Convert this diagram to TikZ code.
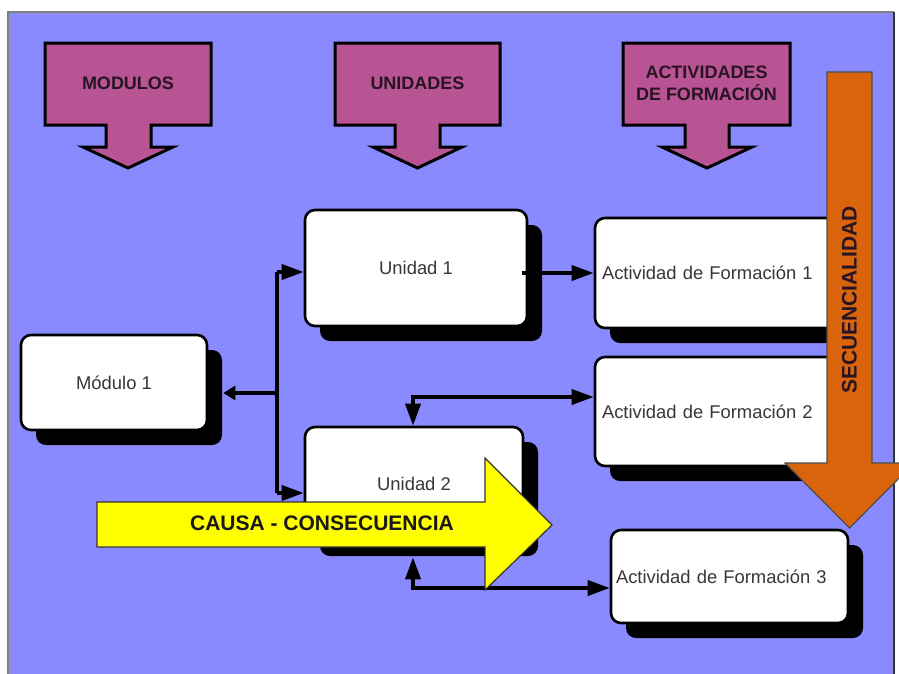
\documentclass[tikz,border=0pt]{standalone}
\usepackage{fontspec}
\setmainfont{Liberation Sans}
\usetikzlibrary{arrows.meta,shadows}
\definecolor{bgblue}{RGB}{138,138,255}
\definecolor{purp}{RGB}{184,83,148}
\definecolor{orng}{RGB}{217,100,12}
\definecolor{yell}{RGB}{255,255,0}
\definecolor{headtxt}{RGB}{40,20,35}
\definecolor{boxtxt}{RGB}{55,55,55}
\begin{document}
\begin{tikzpicture}[x=1pt,y=-1pt,
  wbox/.style={draw=black, line width=2.6pt, fill=white, rounded corners=10pt,
    drop shadow={shadow xshift=15pt, shadow yshift=-15pt, opacity=1, fill=black},
    text=boxtxt, font=\fontsize{18.4}{21}\selectfont, inner sep=0pt},
  callout/.style={draw=black, line width=3pt, fill=purp, line join=miter},
  headlbl/.style={text=headtxt, font=\bfseries\fontsize{18}{22}\selectfont, align=center},
  conn/.style={line width=3.8pt, draw=black},
  arr/.style={conn, -{Triangle[length=22pt,width=15pt]}},
  arrboth/.style={conn, {Triangle[length=22pt,width=15pt]}-{Triangle[length=22pt,width=15pt]}},
  arrsmall/.style={conn, -{Triangle[length=12pt,width=14pt]}}
]
\useasboundingbox (0,0) rectangle (899,673);
\begin{scope}
\clip (0,0) rectangle (899,673);
% frame
\fill[bgblue] (8,12) rectangle (894,700);
\draw[draw=gray, line width=2pt] (8,700) -- (8,12) -- (894,12);
\draw[draw=black!80, line width=1.8pt] (894,12) -- (894,700);

% purple callouts
\draw[callout] (45,43) -- (211,43) -- (211,125) -- (151,125) -- (151,147) -- (173,147) -- (128,168) -- (83,147) -- (106,147) -- (106,125) -- (45,125) -- cycle;
\node[headlbl] (hmod) at (128,83) {MODULOS};
\draw[callout] (335,43) -- (500,43) -- (500,125) -- (440,125) -- (440,147) -- (462,147) -- (417.5,168) -- (373,147) -- (395,147) -- (395,125) -- (335,125) -- cycle;
\node[headlbl] (huni) at (417.5,83) {UNIDADES};
\draw[callout] (623,43) -- (790,43) -- (790,125) -- (729,125) -- (729,147) -- (752,147) -- (707,168) -- (662,147) -- (685,147) -- (685,125) -- (623,125) -- cycle;
\node[headlbl] (hact) at (706.5,83) {ACTIVIDADES\\DE FORMACIÓN};

% boxes
\node[wbox, minimum width=186pt, minimum height=95pt] (m1) at (114,382.5) {Módulo 1};
\node[wbox, minimum width=222pt, minimum height=116pt] (u1) at (416,268) {Unidad 1};
\node[wbox, minimum width=218pt, minimum height=114pt] (u2) at (414,484) {Unidad 2};
\node[wbox, minimum width=245pt, minimum height=110pt, text width=231pt, inner xsep=7pt, align=left] (a1) at (717.5,273) {Actividad de Formación 1};
\node[wbox, minimum width=245pt, minimum height=109pt, text width=231pt, inner xsep=7pt, align=left] (a2) at (717.5,411.5) {Actividad de Formación 2};
\node[wbox, minimum width=237pt, minimum height=93pt, text width=227pt, inner xsep=5pt, align=left] (a3) at (729.5,576.5) {Actividad de Formación 3};

% connectors
\coordinate (j1) at (277,272);
\coordinate (j2) at (277,493);
\coordinate (jm) at (277,393);
\coordinate (k2) at (413,397);
\coordinate (k3) at (413,588);
\draw[conn] (j1) -- (j2);
\draw[arr] (j1) -- (u1.west |- j1);
\draw[arr] (j2) -- (u2.west |- j2);
\draw[arrsmall] (jm) -- ([xshift=15pt]m1.east |- jm);
\draw[arr] ([xshift=-6pt]u1.east |- a1.west) -- (a1.west);
\draw[arrboth] (u2.north -| k2) -- (k2) -- (a2.west |- k2);
\draw[arrboth] ([yshift=-15pt]u2.south -| k3) -- (k3) -- (a3.west |- k3);

% orange arrow
\draw[draw=black!70, line width=1.2pt, fill=orng] (827,72) -- (872,72) -- (872,463) -- (914,463) -- (849.5,528) -- (785,463) -- (827,463) -- cycle;
\node[text=headtxt, font=\bfseries\fontsize{21}{24}\selectfont, rotate=90] (seq) at (849.5,300) {SECUENCIALIDAD};

% yellow arrow
\draw[draw=black!80, line width=1.2pt, fill=yell] (97,502) -- (485,502) -- (485,458) -- (552,525) -- (485,590) -- (485,547) -- (97,547) -- cycle;
\node[text=black!90, font=\bfseries\fontsize{21}{24}\selectfont] (cc) at (322,523) {CAUSA - CONSECUENCIA};
\end{scope}
\end{tikzpicture}
\end{document}
